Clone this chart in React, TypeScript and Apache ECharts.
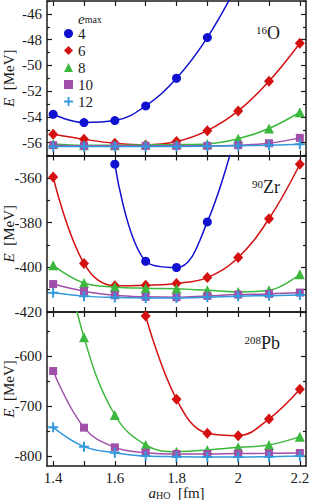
import React, { useEffect, useRef } from 'react';
import * as echarts from 'echarts';

// a_HO values [fm]
const A_HO = [1.4, 1.5, 1.6, 1.7, 1.8, 1.9, 2.0, 2.1, 2.2];
const X_TICKS = [1.4, 1.5, 1.6, 1.7, 1.8, 1.9, 2.0, 2.1, 2.2];
const X_LABELS = [1.4, 1.6, 1.8, 2.0, 2.2];

const EMAX = ['4', '6', '8', '10', '12'];

// 16O  [MeV]
const O16_E4 = [-53.8, -54.44, -54.29, -53.15, -51.0, -47.84, -43.6, null, null];
const O16_E6 = [-55.35, -55.74, -56.05, -56.18, -55.92, -55.07, -53.54, -51.23, -48.28];
const O16_E8 = [-56.1, -56.2, -56.2, -56.17, -56.15, -56.1, -55.7, -54.9, -53.64];
const O16_E10 = [-56.2, -56.25, -56.25, -56.25, -56.25, -56.25, -56.2, -56.05, -55.63];
const O16_E12 = [-56.31, -56.31, -56.31, -56.3, -56.3, -56.28, -56.25, -56.2, -56.13];
const O16_MAJOR = [-56, -54, -52, -50, -48, -46];
const O16_MINOR = [-57, -55, -53, -51, -49, -47, -45];

// 90Zr [MeV]
const ZR_E4 = [null, null, -353.9, -397.3, -400.1, -379.7, -336, null, null];
const ZR_E6 = [-359.6, -398.3, -408.3, -408.0, -407.2, -404.6, -395.6, -378.3, -353.9];
const ZR_E8 = [-399.1, -407.0, -408.8, -409.4, -409.6, -410.3, -411.0, -410.3, -403.1];
const ZR_E10 = [-407.5, -410.7, -412.5, -413.2, -413.4, -412.8, -412.2, -411.9, -411.3];
const ZR_E12 = [-411.4, -412.9, -413.5, -413.7, -413.7, -413.4, -412.9, -412.7, -412.4];
const ZR_MAJOR = [-420, -400, -380, -360];
const ZR_MINOR = [-410, -390, -370, -350];

// 208Pb [MeV]
const PB_E6 = [null, null, null, -520, -686.7, -754.7, -759.3, -726, -666.7];
const PB_E8 = [-300, -562.7, -718, -778, -791.3, -788, -782.7, -778, -761.3];
const PB_E10 = [-630, -743.3, -782.7, -793.3, -796, -796, -795, -794.7, -794];
const PB_E12 = [-742.7, -781.3, -793.3, -800, -801.3, -802, -802, -801.3, -800];
const PB_MAJOR = [-800, -700, -600];
const PB_MINOR = [-750, -650, -550];

const COLORS = ['#1010d0', '#d41010', '#3cb83c', '#a050a8', '#3399dd'];
const PLUS = 'path://M4,0H6V4H10V6H6V10H4V6H0V4H4Z';
const SYMBOLS = ['circle', 'diamond', 'triangle', 'rect', PLUS];
const SYMBOL_SIZES: any[] = [9, [10, 11], 10, 8, 10];

const FONT = 'Liberation Serif';
const INK = '#1a1a1a';

const PANELS = [
  { min: -57, max: -45, major: O16_MAJOR, minor: O16_MINOR, data: [O16_E4, O16_E6, O16_E8, O16_E10, O16_E12], mass: '16', el: 'O', top: 1, height: 154.5 },
  { min: -420, max: -350, major: ZR_MAJOR, minor: ZR_MINOR, data: [ZR_E4, ZR_E6, ZR_E8, ZR_E10, ZR_E12], mass: '90', el: 'Zr', top: 155.5, height: 156.5 },
  { min: -820, max: -512, major: PB_MAJOR, minor: PB_MINOR, data: [null, PB_E6, PB_E8, PB_E10, PB_E12], mass: '208', el: 'Pb', top: 312, height: 154 },
];

function buildOption() {
  const grid: any[] = [];
  const xAxis: any[] = [];
  const yAxis: any[] = [];
  const series: any[] = [];
  const graphic: any[] = [];
  const lineStyle = { color: INK, width: 1.5 };
  const labelStyle = { fontFamily: FONT, fontSize: 15, color: INK, fontWeight: 'normal' };

  PANELS.forEach((p, i) => {
    grid.push({ left: 47, right: 6, top: p.top, height: p.height, containLabel: false, outerBoundsMode: 'none' });
    const last = i === PANELS.length - 1;
    ['bottom', 'top'].forEach((pos) => {
      xAxis.push({
        type: 'value', gridIndex: i, position: pos, min: 1.38, max: 2.22,
        axisLine: { show: true, onZero: false, lineStyle },
        axisTick: { show: true, inside: true, length: 5, customValues: X_TICKS, lineStyle: { color: INK, width: 1.2 } },
        axisLabel: last && pos === 'bottom'
          ? { show: true, customValues: X_LABELS, margin: 5, ...labelStyle, lineHeight: 13, rich: { n: { ...labelStyle, lineHeight: 13 } }, formatter: (v: number) => `{n|${v}}` }
          : { show: false },
        splitLine: { show: false },
        name: last && pos === 'bottom' ? '{i|a}{s|HO}{n|  [fm]}' : '',
        nameLocation: 'middle', nameGap: 20, nameMoveOverlap: false,
        nameTextStyle: {
          ...labelStyle,
          rich: {
            n: { ...labelStyle, lineHeight: 14 },
            i: { ...labelStyle, fontStyle: 'italic', lineHeight: 14 },
            s: { fontFamily: FONT, fontSize: 10, color: INK, lineHeight: 8, verticalAlign: 'bottom' },
          },
        },
      });
    });
    ['left', 'right'].forEach((pos) => {
      yAxis.push({
        type: 'value', gridIndex: i, position: pos, min: p.min, max: p.max,
        axisLine: { show: true, onZero: false, lineStyle },
        axisTick: { show: true, inside: true, length: 5, customValues: p.major, lineStyle: { color: INK, width: 1.2 } },
        axisLabel: pos === 'left'
          ? { show: true, customValues: p.major, margin: 5, ...labelStyle, rich: { n: { ...labelStyle } }, formatter: (v: number) => `{n|${v}}` }
          : { show: false },
        splitLine: { show: false },
        name: pos === 'left' ? '{i|E}{n|  [MeV]}' : '',
        nameLocation: 'middle', nameGap: 31, nameRotate: 90, nameMoveOverlap: false,
        nameTextStyle: {
          ...labelStyle,
          rich: { n: { ...labelStyle }, i: { ...labelStyle, fontStyle: 'italic' } },
        },
      });
      yAxis.push({
        type: 'value', gridIndex: i, position: pos, min: p.min, max: p.max,
        axisLine: { show: false, onZero: false },
        axisTick: { show: true, inside: true, length: 3, customValues: p.minor, lineStyle: { color: INK, width: 1.2 } },
        axisLabel: { show: false },
        splitLine: { show: false },
      });
    });

    p.data.forEach((vals, k) => {
      if (!vals) return;
      const pts: any[] = [];
      vals.forEach((v, j) => { if (v !== null) pts.push([A_HO[j], v]); });
      series.push({
        type: 'line', name: EMAX[k], xAxisIndex: 2 * i, yAxisIndex: 4 * i,
        data: pts, smooth: 0.4, clip: true,
        symbol: SYMBOLS[k], symbolSize: SYMBOL_SIZES[k],
        itemStyle: { color: COLORS[k] },
        lineStyle: { color: COLORS[k], width: 1.5 },
        z: 2 + k,
      });
    });

    graphic.push({
      type: 'text', right: 32, top: [24, 178, 334][i],
      style: {
        text: `{s|${p.mass}}{m|${p.el}}`,
        rich: {
          s: { fontFamily: FONT, fontSize: 11, fill: INK, lineHeight: 11, verticalAlign: 'top' },
          m: { fontFamily: FONT, fontSize: 18, fill: INK, lineHeight: 18 },
        },
      },
      z: 20,
    });
  });

  graphic.push({
    type: 'text', left: 78, top: 11,
    style: {
      text: '{e|e}{s|max}',
      rich: {
        e: { fontFamily: FONT, fontSize: 15, fontStyle: 'italic', fill: INK, lineHeight: 11 },
        s: { fontFamily: FONT, fontSize: 10, fill: INK, lineHeight: 8, verticalAlign: 'bottom' },
      },
    },
    z: 20,
  });

  return {
    animation: false,
    backgroundColor: '#ffffff',
    textStyle: { fontFamily: FONT },
    grid, xAxis, yAxis, series, graphic,
    legend: {
      left: 64, top: 26, padding: 0, orient: 'vertical', itemWidth: 9, itemHeight: 9, itemGap: 2,
      selectedMode: false,
      textStyle: { ...labelStyle, lineHeight: 14, rich: { n: { ...labelStyle, lineHeight: 14 } } },
      formatter: (n: string) => `{n|${n}}`,
      data: EMAX.map((n, k) => ({ name: n, icon: SYMBOLS[k] })),
    },
  };
}

export default function App() {
  const ref = useRef<HTMLDivElement>(null);
  useEffect(() => {
    const chart = echarts.init(ref.current!, null, { renderer: 'svg' });
    chart.setOption(buildOption() as any);
    return () => chart.dispose();
  }, []);
  return <div ref={ref} style={{ position: 'absolute', left: 0, top: 0, width: 312, height: 500, background: '#fff' }} />;
}
